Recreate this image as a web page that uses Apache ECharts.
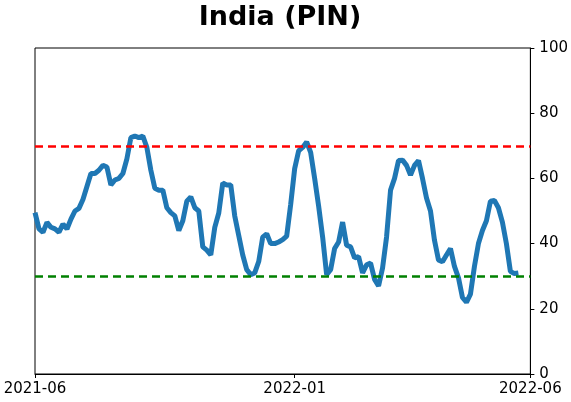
<!DOCTYPE html>
<html>
<head>
<meta charset="utf-8">
<script src="https://cdn.jsdelivr.net/npm/echarts@6/dist/echarts.min.js"></script>
<style>
  html, body { margin: 0; padding: 0; background: #fff; }
  #chart { width: 571px; height: 402px; }
</style>
</head>
<body>
<div id="chart"></div>
<script>
// values, one every few days
const values = [
  49.5, 44.5, 43.5, 46.5, 45, 44.5, 43.5, 46, 44.5, 47.5,
  50, 50.8, 53.5, 57.5, 61.5, 61.5, 62.5, 64, 63.5, 58,
  59.5, 60, 61.5, 66, 72.5, 73, 72.5, 73, 69.5, 62.5,
  57, 56.4, 56.4, 51, 49.5, 48.5, 44, 47, 53, 54.3,
  51, 50, 39, 38, 36.5, 45, 49.4, 58.6, 58, 58,
  48.5, 42.5, 36.5, 32, 30.5, 31, 34.5, 42, 43, 40,
  40, 40.5, 41.2, 42.3, 52, 63, 68.5, 69.5, 71.2, 68,
  60, 51.5, 42, 30.5, 32, 38.5, 40.5, 46.6, 39.5, 39,
  35.6, 36, 31, 33.5, 34, 29, 27, 32.5, 42, 56.4,
  60, 65.5, 65.6, 64, 61, 64, 65.5, 60, 54, 50,
  41, 35, 34.4, 36.5, 38.5, 33, 29.5, 23.5, 22, 24.5,
  33, 40, 44, 47, 53, 53.2, 51, 46.6, 40, 31.5,
  30.8, 31, null, null, null
];
const tickLabels = { 0: '2021-06', 65: '2022-01', 124: '2022-06' };
const upperLine = 70;
const lowerLine = 30;

const categories = values.map((v, i) => String(i));

const chart = echarts.init(document.getElementById('chart'));

const option = {
  animation: false,
  title: {
    text: 'India (PIN)',
    left: 275,
    textAlign: 'center',
    top: -1,
    textStyle: { fontFamily: 'DejaVu Sans', fontWeight: 'bold', fontSize: 27, color: '#000' }
  },
  grid: {
    left: 35, right: 40, top: 48, bottom: 28,
    show: true, borderColor: '#000', borderWidth: 1
  },
  xAxis: {
    type: 'category',
    data: categories,
    boundaryGap: false,
    axisLine: { lineStyle: { color: '#000' } },
    axisTick: {
      alignWithLabel: true,
      length: 4,
      interval: (i) => tickLabels[i] !== undefined,
      lineStyle: { color: '#000' }
    },
    axisLabel: {
      interval: (i) => tickLabels[i] !== undefined,
      formatter: (v, i) => tickLabels[i] || '',
      hideOverlap: false,
      color: '#000',
      fontFamily: 'DejaVu Sans',
      fontSize: 15,
      margin: 8
    },
    splitLine: { show: false }
  },
  yAxis: {
    type: 'value',
    position: 'right',
    min: 0, max: 100, interval: 20,
    axisLine: { show: true, lineStyle: { color: '#000' } },
    axisTick: { show: true, length: 4, lineStyle: { color: '#000' } },
    axisLabel: { color: '#000', fontFamily: 'DejaVu Sans', fontSize: 15, margin: 9 },
    splitLine: { show: false }
  },
  series: [
    {
      type: 'line',
      data: values,
      showSymbol: false,
      connectNulls: false,
      lineStyle: { color: '#1f77b4', width: 5 },
      z: 3,
      markLine: {
        silent: true,
        symbol: 'none',
        label: { show: false },
        data: [
          { yAxis: upperLine, lineStyle: { color: '#ff0000', type: [8, 5], width: 2.5 } },
          { yAxis: lowerLine, lineStyle: { color: '#008000', type: [8, 5], width: 2.5 } }
        ]
      }
    }
  ]
};

chart.setOption(option);
</script>
</body>
</html>
